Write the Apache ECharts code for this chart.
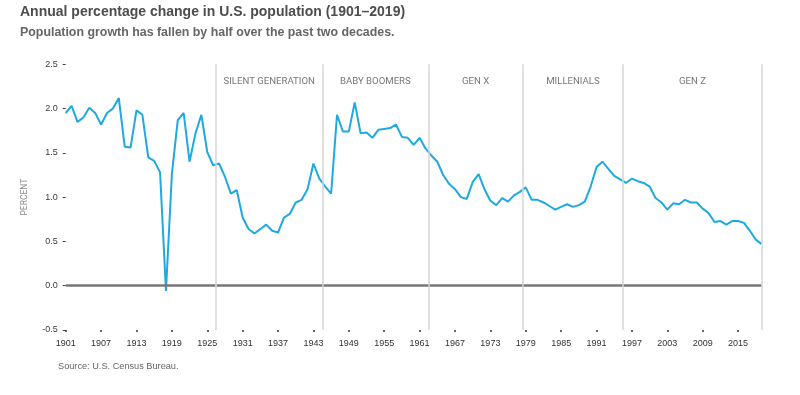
<!DOCTYPE html>
<html><head><meta charset="utf-8">
<script src="https://cdn.jsdelivr.net/npm/echarts@6/dist/echarts.min.js"></script>
<style>html,body{margin:0;padding:0;background:#fff}#c{width:800px;height:395px}</style>
</head><body><div id="c"></div>
<script>
const firstYear = 1901;
const growth = [
  1.95, 2.03, 1.85, 1.90, 2.01, 1.95, 1.82, 1.95, 2.00, 2.12,
  1.57, 1.56, 1.98, 1.93, 1.45, 1.41, 1.28, -0.06, 1.26, 1.87,
  1.95, 1.40, 1.72, 1.93, 1.51, 1.36, 1.38, 1.23, 1.04, 1.08,
  0.77, 0.64, 0.59, 0.64, 0.69, 0.62, 0.60, 0.77, 0.81, 0.94,
  0.97, 1.09, 1.38, 1.21, 1.12, 1.04, 1.93, 1.74, 1.74, 2.07,
  1.72, 1.73, 1.67, 1.76, 1.77, 1.78, 1.82, 1.68, 1.67, 1.59,
  1.67, 1.55, 1.47, 1.40, 1.25, 1.15, 1.09, 1.00, 0.98, 1.17,
  1.26, 1.09, 0.96, 0.91, 0.99, 0.95, 1.02, 1.06, 1.11, 0.97,
  0.97, 0.94, 0.90, 0.86, 0.89, 0.92, 0.89, 0.91, 0.95, 1.12,
  1.34, 1.40, 1.32, 1.24, 1.20, 1.16, 1.21, 1.18, 1.16, 1.12,
  0.99, 0.94, 0.86, 0.93, 0.92, 0.97, 0.94, 0.94, 0.87, 0.82,
  0.72, 0.73, 0.69, 0.73, 0.73, 0.71, 0.62, 0.52, 0.47
];
const years = growth.map((v, i) => firstYear + i);
const tickYears = [1901,1907,1913,1919,1925,1931,1937,1943,1949,1955,1961,1967,1973,1979,1985,1991,1997,2003,2009,2015];
const genNames = ['SILENT GENERATION','BABY BOOMERS','GEN X','MILLENIALS','GEN Z'];
const genBounds = [1926.5, 1944.5, 1962.5, 1978.5, 1995.5, 2019];

const chart = echarts.init(document.getElementById('c'));
const vLine = {color:'#d6d6d6', width:1.5, type:'solid'};
chart.setOption({
  animation:false,
  title:[
    {text:'Annual percentage change in U.S. population (1901–2019)', left:20, top:5.5, padding:0,
     textStyle:{fontSize:14, fontWeight:'bold', color:'#4d4d4d', fontFamily:'Liberation Sans'}},
    {text:'Population growth has fallen by half over the past two decades.', left:20, top:27, padding:0,
     textStyle:{fontSize:12.4, fontWeight:'bold', color:'#666', fontFamily:'Liberation Sans'}},
    {text:'Source: U.S. Census Bureau.', left:58, top:362, padding:0,
     textStyle:{fontSize:9.2, fontWeight:'normal', color:'#666', fontFamily:'Liberation Sans'}}
  ],
  grid:{left:65.7, right:38.3, top:64.3, bottom:65},
  xAxis:{
    type:'value', min:firstYear, max:years[years.length-1],
    axisLine:{show:false, onZero:false},
    splitLine:{show:false},
    axisTick:{show:true, customValues:tickYears, length:2, lineStyle:{color:'#333', width:1.5}},
    axisLabel:{customValues:tickYears, fontSize:9, color:'#333', margin:9, fontFamily:'Liberation Sans',
      formatter: v => String(v)}
  },
  yAxis:{
    type:'value', min:-0.5, max:2.5, interval:0.5,
    name:'PERCENT', nameLocation:'middle', nameGap:36,
    nameTextStyle:{fontSize:8.5, color:'#888', fontFamily:'Roboto'},
    axisLine:{show:false},
    splitLine:{show:false},
    axisTick:{show:true, length:3, lineStyle:{color:'#444', width:1}},
    axisLabel:{fontSize:9, color:'#3a3a3a', margin:8, fontFamily:'Liberation Sans',
      formatter: v => v.toFixed(1)}
  },
  series:[{
    type:'line',
    data: years.map((y, i) => [y, growth[i]]),
    symbol:'none',
    lineStyle:{color:'#1fa9e1', width:2},
    markLine:{
      silent:true, symbol:'none', label:{show:false},
      data:[
        {yAxis:0, lineStyle:{color:'#777', width:2.5, type:'solid'}},
        ...genBounds.map(b => ({xAxis:b, lineStyle:vLine}))
      ]
    },
    markArea:{
      silent:true,
      itemStyle:{color:'rgba(0,0,0,0)'},
      label:{show:true, position:'insideTop', distance:12, color:'#777', fontSize:9.6, fontFamily:'Roboto'},
      data: genNames.map((n, i) => [{name:n, xAxis:genBounds[i]}, {xAxis:genBounds[i+1]}])
    }
  }]
});
</script></body></html>
